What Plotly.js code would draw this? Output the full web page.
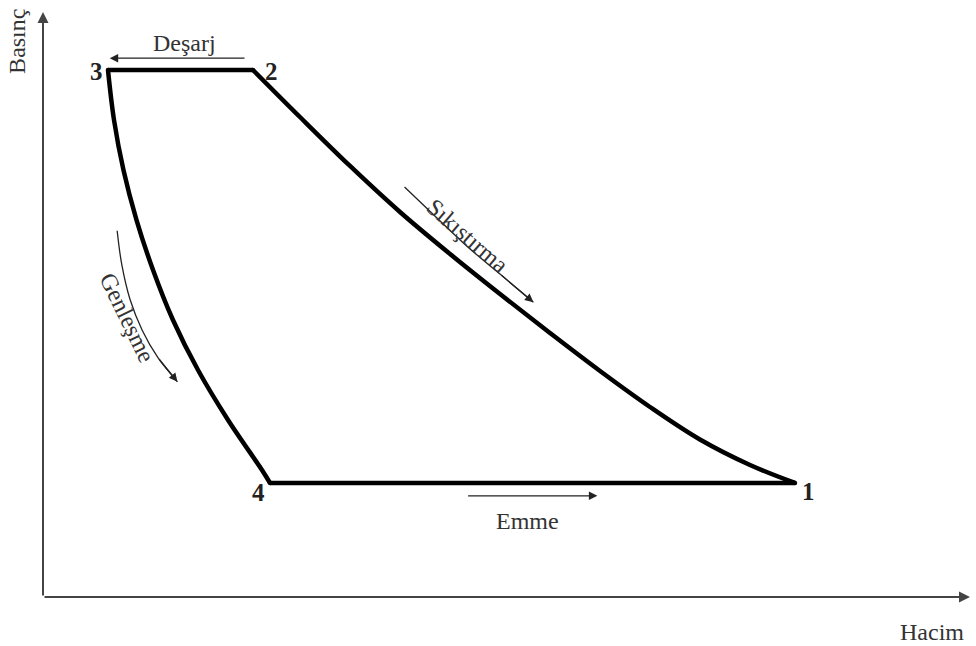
<!DOCTYPE html>
<html>
<head>
<meta charset="utf-8">
<script src="https://cdn.plot.ly/plotly-3.0.1.min.js"></script>
<style>html,body{margin:0;padding:0;background:#fff;}#chart{width:976px;height:646px;}</style>
</head>
<body>
<div id="chart"></div>
<script>
// Compression curve, state 2 -> state 1 (Hacim, Basınç)
const compV = [2.265, 2.772, 3.312, 3.851, 4.391, 4.930, 5.469, 6.009, 6.548, 7.087, 7.627, 8.112];
const compP = [9.009, 8.205, 7.368, 6.581, 5.863, 5.179, 4.513, 3.863, 3.248, 2.692, 2.256, 1.949];
// Expansion curve, state 3 -> state 4
const expV = [0.701, 0.766, 0.868, 1.009, 1.187, 1.402, 1.672, 1.996, 2.362, 2.449];
const expP = [9.009, 8.154, 7.299, 6.444, 5.590, 4.735, 3.880, 3.026, 2.171, 1.949];
// State labels
const stateNames = ["1", "2", "3", "4"];
const stateLabelV = [8.26, 2.46, 0.58, 2.32];
const stateLabelP = [1.81, 8.99, 8.99, 1.79];
// Process arrows
const sikV = [3.90, 4.25, 4.57, 4.93, 5.29];
const sikP = [7.01, 6.48, 6.00, 5.52, 5.04];
const genV = [0.80, 0.85, 0.94, 1.07, 1.24, 1.45];
const genP = [6.26, 5.68, 5.08, 4.56, 4.09, 3.68];
const desarjV = [2.19, 0.72], desarjP = [9.21, 9.21];
const emmeV = [4.57, 5.98], emmeP = [1.73, 1.73];

const nC = compV.length, nE = expV.length;
// Straight processes: discharge 2 -> 3 and suction 4 -> 1
const dischargeV = [compV[0], expV[0]], dischargeP = [compP[0], expP[0]];
const suctionV = [expV[nE - 1], compV[nC - 1]], suctionP = [expP[nE - 1], compP[nC - 1]];

const serif = "Liberation Serif, Times New Roman, serif";
const txtCol = "#333";
const fs = 24;
const lw = 4.5;

const corner = {color: "#000", size: lw};
const traces = [
  {x: compV, y: compP, mode: "lines", line: {color: "#000", width: lw, shape: "spline", smoothing: 1}, hoverinfo: "skip"},
  {x: expV, y: expP, mode: "lines", line: {color: "#000", width: lw, shape: "spline", smoothing: 1}, hoverinfo: "skip"},
  {x: dischargeV, y: dischargeP, mode: "lines+markers", marker: corner, line: {color: "#000", width: lw}, hoverinfo: "skip"},
  {x: suctionV, y: suctionP, mode: "lines+markers", marker: corner, line: {color: "#000", width: lw}, hoverinfo: "skip"},
  {x: sikV, y: sikP, mode: "lines", line: {color: "#222", width: 1.3, shape: "spline"}, hoverinfo: "skip"},
  {x: genV, y: genP, mode: "lines", line: {color: "#222", width: 1.3, shape: "spline"}, hoverinfo: "skip"}
];

function headAnn(xs, ys) {
  const n = xs.length;
  return {x: xs[n - 1], y: ys[n - 1], ax: xs[n - 2], ay: ys[n - 2], axref: "x", ayref: "y", xref: "x", yref: "y",
    text: "", showarrow: true, arrowhead: 2, arrowsize: 1.3, arrowwidth: 1.3, arrowcolor: "#222", standoff: 0};
}

const annotations = [
  // axes
  {xref: "paper", yref: "paper", x: 1, y: 0, ax: -927, ay: 0, axref: "pixel", ayref: "pixel", text: "", showarrow: true,
   arrowhead: 2, arrowsize: 1.1, arrowwidth: 2, arrowcolor: "#444", standoff: 0},
  {xref: "paper", yref: "paper", x: 0, y: 1, ax: 0, ay: 585, axref: "pixel", ayref: "pixel", text: "", showarrow: true,
   arrowhead: 2, arrowsize: 1.1, arrowwidth: 2, arrowcolor: "#444", standoff: 0},
  {xref: "paper", yref: "paper", x: -0.028, y: 0.949, xanchor: "center", yanchor: "middle", text: "Basınç", textangle: -90,
   showarrow: false, font: {family: serif, size: fs, color: txtCol}},
  {xref: "paper", yref: "paper", x: 0.9585, y: -0.06, xanchor: "center", yanchor: "middle", text: "Hacim",
   showarrow: false, font: {family: serif, size: fs, color: txtCol}},
  // process labels
  {x: 1.53, y: 9.47, text: "Deşarj", showarrow: false, font: {family: serif, size: fs, color: txtCol}},
  {x: 5.23, y: 1.30, text: "Emme", showarrow: false, font: {family: serif, size: fs, color: txtCol}},
  {x: 4.58, y: 6.17, text: "Sıkıştırma", textangle: 41, showarrow: false, font: {family: serif, size: fs, color: txtCol}},
  {x: 0.91, y: 4.77, text: "Genleşme", textangle: 64, showarrow: false, font: {family: serif, size: fs, color: txtCol}},
  headAnn(desarjV, desarjP),
  headAnn(emmeV, emmeP),
  headAnn(sikV, sikP),
  headAnn(genV, genP)
];
stateNames.forEach((s, i) => annotations.push({x: stateLabelV[i], y: stateLabelP[i], text: "<b>" + s + "</b>", showarrow: false,
  font: {family: serif, size: fs + 1, color: "#222"}}));

const axisCommon = {range: [0, 10], showgrid: false, zeroline: false, showticklabels: false, ticks: "", showline: false, fixedrange: true};

const layout = {
  width: 976, height: 646,
  margin: {l: 43, r: 6, t: 12, b: 49},
  paper_bgcolor: "#fff", plot_bgcolor: "#fff",
  showlegend: false,
  xaxis: axisCommon,
  yaxis: Object.assign({}, axisCommon),
  annotations: annotations
};

Plotly.newPlot("chart", traces, layout, {displayModeBar: false, staticPlot: true});
</script>
</body>
</html>
